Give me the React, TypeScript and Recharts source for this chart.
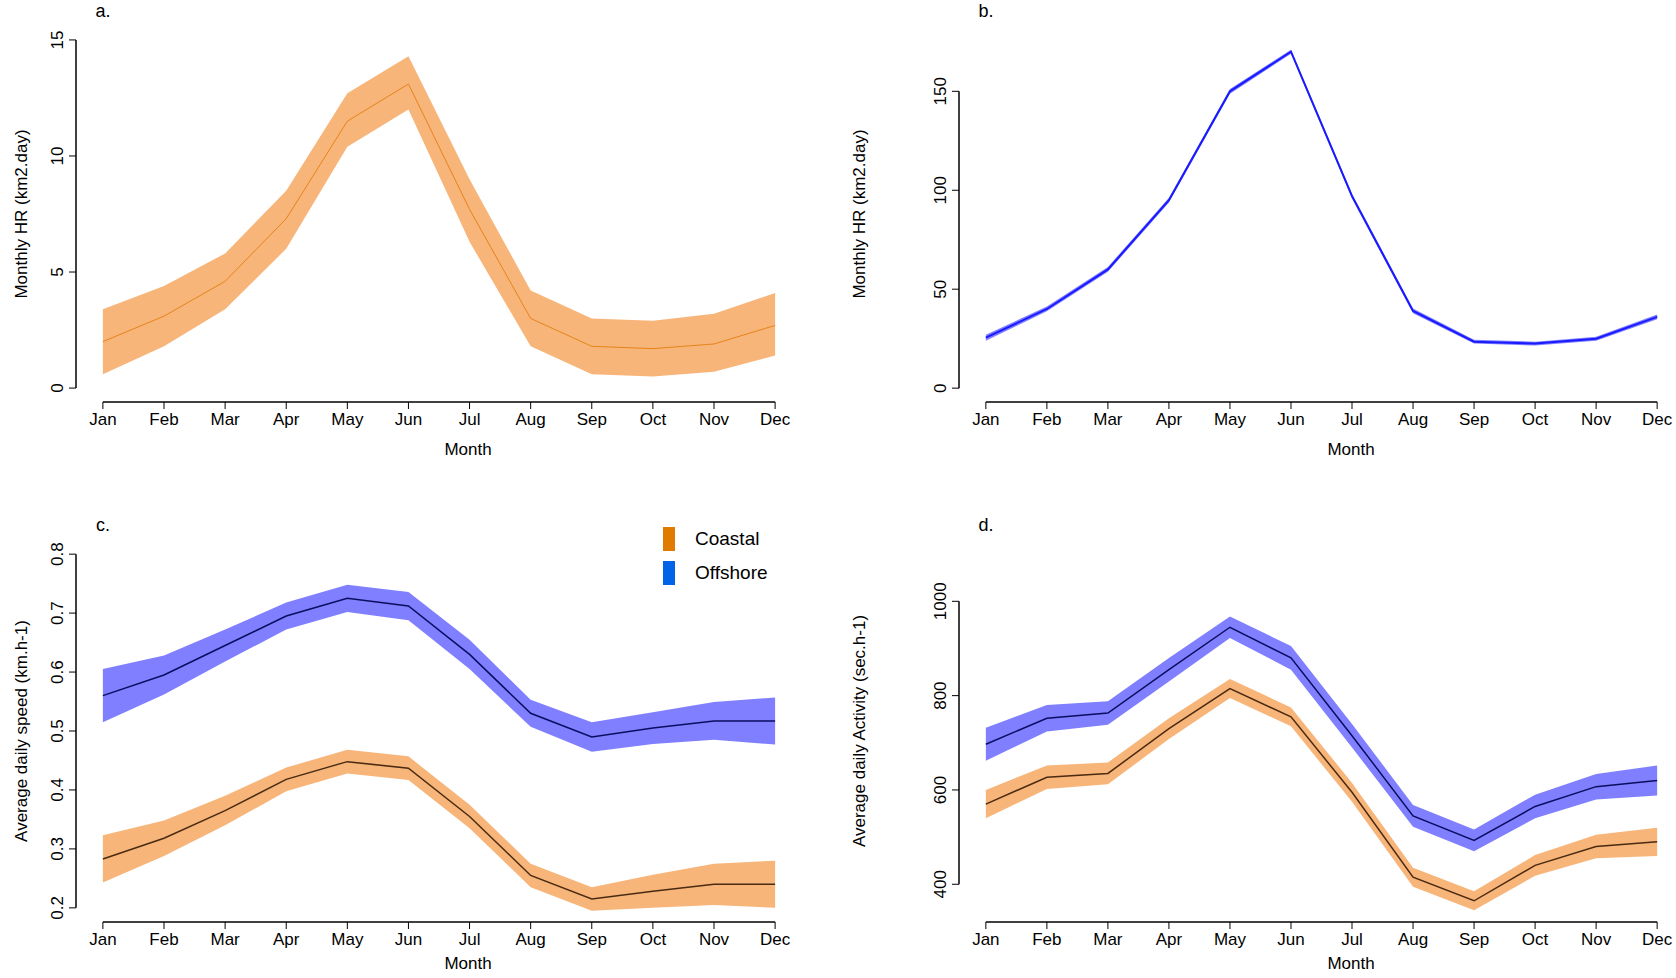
import React from "react";
import { Area, ComposedChart, Line, ReferenceLine, XAxis, YAxis } from "recharts";

const MONTHS = ["Jan", "Feb", "Mar", "Apr", "May", "Jun", "Jul", "Aug", "Sep", "Oct", "Nov", "Dec"];

const hrCoastalMean = [2.0, 3.1, 4.6, 7.3, 11.5, 13.1, 7.7, 3.0, 1.8, 1.7, 1.9, 2.7];
const hrCoastalLow = [0.6, 1.8, 3.4, 6.0, 10.4, 12.0, 6.3, 1.8, 0.6, 0.5, 0.7, 1.4];
const hrCoastalHigh = [3.4, 4.4, 5.8, 8.5, 12.7, 14.3, 9.0, 4.2, 3.0, 2.9, 3.2, 4.1];

const hrOffshoreMean = [25.5, 40, 60, 95, 150, 170, 97, 39, 23.5, 22.5, 25, 36];
const hrOffshoreLow = [24, 38.8, 58.8, 93.8, 148.8, 169, 95.8, 37.8, 22.5, 21.5, 24, 34.8];
const hrOffshoreHigh = [27, 41.2, 61.2, 96.2, 151.2, 171, 98.2, 40.2, 24.5, 23.5, 26, 37.2];

const speedOffMean = [0.56, 0.595, 0.645, 0.695, 0.725, 0.712, 0.63, 0.53, 0.49, 0.505, 0.517, 0.517];
const speedOffLow = [0.515, 0.562, 0.618, 0.672, 0.702, 0.688, 0.605, 0.507, 0.465, 0.478, 0.485, 0.477];
const speedOffHigh = [0.605, 0.628, 0.672, 0.718, 0.748, 0.736, 0.655, 0.553, 0.515, 0.532, 0.549, 0.557];
const speedCoaMean = [0.283, 0.318, 0.365, 0.418, 0.448, 0.437, 0.355, 0.255, 0.215, 0.228, 0.24, 0.24];
const speedCoaLow = [0.243, 0.288, 0.34, 0.398, 0.428, 0.417, 0.335, 0.235, 0.195, 0.2, 0.205, 0.2];
const speedCoaHigh = [0.323, 0.348, 0.39, 0.438, 0.468, 0.457, 0.375, 0.275, 0.235, 0.256, 0.275, 0.28];

const actOffMean = [697, 752, 763, 855, 945, 880, 715, 545, 493, 565, 607, 620];
const actOffLow = [662, 724, 738, 830, 922, 855, 690, 522, 470, 540, 580, 588];
const actOffHigh = [732, 780, 788, 880, 968, 905, 740, 568, 516, 590, 634, 652];
const actCoaMean = [570, 627, 635, 730, 815, 755, 595, 415, 365, 440, 480, 490];
const actCoaLow = [540, 602, 612, 708, 795, 735, 575, 395, 345, 418, 455, 460];
const actCoaHigh = [600, 652, 658, 752, 835, 775, 615, 435, 385, 462, 505, 520];

const ORANGE_BAND = "#f7b57a";
const BLUE_BAND = "#7f7fff";
const FONT = "'Liberation Sans', Arial, sans-serif";

type Series = { mean: number[]; low: number[]; high: number[]; band: string; line: string };

function rows(series: Series[]) {
  return MONTHS.map((m, i) => {
    const r: any = { x: i };
    series.forEach((s, k) => {
      r["m" + k] = s.mean[i];
      r["b" + k] = [s.low[i], s.high[i]];
    });
    return r;
  });
}

const YTick = ({ x, y, payload }: any) => (
  <text x={x - 4} y={y} transform={`rotate(-90, ${x - 4}, ${y})`} textAnchor="middle" fontSize={17} fill="#000" fontFamily={FONT}>
    {payload.value}
  </text>
);

function Panel(props: {
  left: number; top: number; width: number; series: Series[]; domain: [number, number]; ticks: number[];
  margin: any; letter: string; ylabel: string; lineWidth: number; monthX: number; monthTop: number;
}) {
  const { series, domain, ticks } = props;
  const data = rows(series);
  const lo = ticks[0];
  const hi = ticks[ticks.length - 1];
  const janX = props.margin.left + 40 + 27;
  return (
    <div style={{ position: "absolute", left: props.left, top: props.top }}>
      <ComposedChart width={props.width} height={489} data={data} margin={props.margin}>
        <XAxis dataKey="x" type="number" domain={[-0.44, 11.44]} ticks={MONTHS.map((_, i) => i)}
          tickFormatter={(v) => MONTHS[v]} axisLine={false} tickSize={7} tickMargin={4} height={30}
          tick={{ fontSize: 17, fill: "#000", fontFamily: FONT }} tickLine={{ stroke: "#000" }} interval={0} />
        <YAxis type="number" domain={domain} ticks={ticks} allowDataOverflow axisLine={false} tickSize={7}
          width={40} tick={<YTick />} tickLine={{ stroke: "#000" }} interval={0} />
        {series.map((s, k) => (
          <Area key={"b" + k} dataKey={"b" + k} type="linear" stroke="none" fill={s.band} fillOpacity={1} isAnimationActive={false} />
        ))}
        {series.map((s, k) => (
          <Line key={"m" + k} dataKey={"m" + k} type="linear" stroke={s.line} strokeWidth={props.lineWidth} dot={false} isAnimationActive={false} />
        ))}
        <ReferenceLine segment={[{ x: 0, y: domain[0] }, { x: 11, y: domain[0] }]} stroke="#000" strokeWidth={1.5} ifOverflow="visible" />
        <ReferenceLine segment={[{ x: -0.44, y: lo }, { x: -0.44, y: hi }]} stroke="#000" strokeWidth={1.5} ifOverflow="visible" />
      </ComposedChart>
      <div style={{ position: "absolute", left: janX, top: props.margin.top - 25, fontSize: 18, fontFamily: FONT, transform: "translateX(-50%)" }}>{props.letter}</div>
      <div style={{ position: "absolute", left: props.monthX, top: props.monthTop, fontSize: 17, fontFamily: FONT, width: 100, marginLeft: -50, textAlign: "center" }}>Month</div>
      <div style={{ position: "absolute", left: 22, top: (props.margin.top + 489 - props.margin.bottom - 30) / 2, fontSize: 17, fontFamily: FONT, whiteSpace: "nowrap", transform: "translate(-50%, -50%) rotate(-90deg)" }}>{props.ylabel}</div>
    </div>
  );
}

export default function App() {
  const coastalA: Series = { mean: hrCoastalMean, low: hrCoastalLow, high: hrCoastalHigh, band: ORANGE_BAND, line: "#e8831a" };
  const offshoreB: Series = { mean: hrOffshoreMean, low: hrOffshoreLow, high: hrOffshoreHigh, band: BLUE_BAND, line: "#1a1aff" };
  const speed: Series[] = [
    { mean: speedOffMean, low: speedOffLow, high: speedOffHigh, band: BLUE_BAND, line: "#0d0d60" },
    { mean: speedCoaMean, low: speedCoaLow, high: speedCoaHigh, band: ORANGE_BAND, line: "#4a2a10" },
  ];
  const act: Series[] = [
    { mean: actOffMean, low: actOffLow, high: actOffHigh, band: BLUE_BAND, line: "#0d0d60" },
    { mean: actCoaMean, low: actCoaLow, high: actCoaHigh, band: ORANGE_BAND, line: "#4a2a10" },
  ];
  return (
    <div style={{ position: "absolute", left: 0, top: 0, width: 1676, height: 978, overflow: "hidden", background: "#fff" }}>
      <Panel left={0} top={0} width={838} series={[coastalA]} domain={[-0.6, 15.6]} ticks={[0, 5, 10, 15]}
        margin={{ left: 36, right: 36, top: 26, bottom: 57 }} letter="a." ylabel="Monthly HR (km2.day)" lineWidth={1}
        monthX={468} monthTop={440} />
      <Panel left={838} top={0} width={850} series={[offshoreB]} domain={[-7, 183]} ticks={[0, 50, 100, 150]}
        margin={{ left: 81, right: 4, top: 26, bottom: 57 }} letter="b." ylabel="Monthly HR (km2.day)" lineWidth={2}
        monthX={513} monthTop={440} />
      <Panel left={0} top={489} width={838} series={speed} domain={[0.176, 0.824]} ticks={[0.2, 0.3, 0.4, 0.5, 0.6, 0.7, 0.8]}
        margin={{ left: 36, right: 36, top: 51, bottom: 26 }} letter="c." ylabel="Average daily speed (km.h-1)" lineWidth={1.5}
        monthX={468} monthTop={465} />
      <Panel left={838} top={489} width={850} series={act} domain={[320, 1130]} ticks={[400, 600, 800, 1000]}
        margin={{ left: 81, right: 4, top: 51, bottom: 26 }} letter="d." ylabel="Average daily Activity (sec.h-1)" lineWidth={1.5}
        monthX={513} monthTop={465} />
      <div style={{ position: "absolute", left: 663, top: 522, fontFamily: FONT, fontSize: 19 }}>
        <div style={{ display: "flex", alignItems: "center", height: 34 }}>
          <span style={{ width: 12, height: 24, background: "#e07b00", marginRight: 20 }} />Coastal
        </div>
        <div style={{ display: "flex", alignItems: "center", height: 34 }}>
          <span style={{ width: 12, height: 24, background: "#0064e8", marginRight: 20 }} />Offshore
        </div>
      </div>
    </div>
  );
}
